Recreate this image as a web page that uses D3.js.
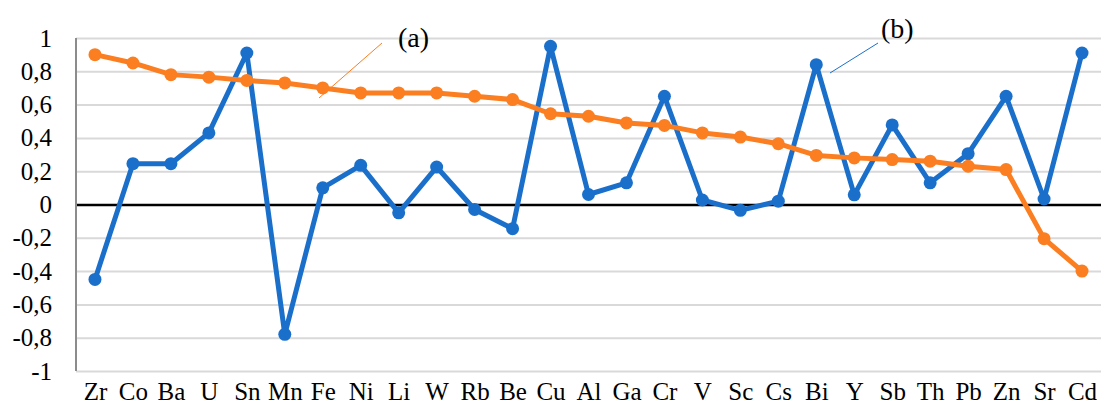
<!DOCTYPE html>
<html>
<head>
<meta charset="utf-8">
<script src="https://cdn.jsdelivr.net/npm/d3@7"></script>
<style>
  body { margin: 0; background: #fff; }
  svg { display: block; }
  svg text { font-family: "Liberation Serif", "DejaVu Serif", serif !important; fill: #000; }
</style>
</head>
<body>
<svg id="chart"></svg>
<script>
//Chart data
let elements = ['Zr', 'Co', 'Ba', 'U', 'Sn', 'Mn', 'Fe', 'Ni', 'Li', 'W', 'Rb', 'Be', 'Cu', 'Al',
                'Ga', 'Cr', 'V', 'Sc', 'Cs', 'Bi', 'Y', 'Sb', 'Th', 'Pb', 'Zn', 'Sr', 'Cd'];
let seriesA = [0.90, 0.85, 0.78, 0.765, 0.745, 0.73, 0.70, 0.67, 0.67, 0.67, 0.65, 0.63, 0.545, 0.53,
               0.49, 0.475, 0.43, 0.405, 0.365, 0.295, 0.28, 0.27, 0.26, 0.23, 0.21, -0.205, -0.40];
let seriesB = [-0.45, 0.245, 0.245, 0.43, 0.91, -0.78, 0.10, 0.235, -0.05, 0.225, -0.03, -0.145, 0.95, 0.06,
               0.13, 0.65, 0.027, -0.035, 0.02, 0.84, 0.058, 0.478, 0.13, 0.305, 0.65, 0.033, 0.91];
let yTicks = [-1, -0.8, -0.6, -0.4, -0.2, 0, 0.2, 0.4, 0.6, 0.8, 1];

//Canvas
let width = 1102, height = 406;
let margin = { left: 76, right: 1, top: 38, bottom: 35 };
let svg = d3.select('#chart').attr('width', width).attr('height', height);

//Scales
let xScale = d3.scalePoint()
               .domain(elements)
               .range([margin.left, width - margin.right])
               .padding(0.5);
let yScale = d3.scaleLinear()
               .domain([-1, 1])
               .range([height - margin.bottom, margin.top]);

let fmt = (d) => d3.format('.1f')(d).replace('.', ',').replace(',0', '').replace('−', '-');

//Grid lines
let yAxis = d3.axisLeft(yScale)
              .tickValues(yTicks)
              .tickSize(-(width - margin.right - margin.left))
              .tickFormat(fmt);
let gy = svg.append('g')
   .attr('transform', 'translate(' + margin.left + ',0)')
   .call(yAxis)
   .attr('font-family', null)
   .attr('font-size', 25);
gy.select('.domain').remove();
gy.selectAll('.tick line')
  .attr('stroke', (d) => d === 0 ? '#000' : '#d9d9d9')
  .attr('stroke-width', (d) => d === 0 ? 2.5 : 2);
gy.selectAll('.tick text')
  .attr('x', -24)
  .attr('dy', '0.32em');
gy.selectAll('.tick').filter((d) => d === 0).raise();

//Vertical axis line
svg.append('line')
   .attr('x1', margin.left).attr('x2', margin.left)
   .attr('y1', yScale(1)).attr('y2', yScale(-1))
   .attr('stroke', '#8c8c8c')
   .attr('stroke-width', 2);

//X axis labels
let xAxis = d3.axisBottom(xScale).tickSize(0).tickPadding(11);
let gx = svg.append('g')
   .attr('transform', 'translate(0,' + yScale(-1) + ')')
   .call(xAxis)
   .attr('font-family', null)
   .attr('font-size', 25);
gx.select('.domain').remove();

//Draw series
function drawSeries(values, color){
    let line = d3.line()
                 .x((d, i) => xScale(elements[i]))
                 .y((d) => yScale(d));
    svg.append('path')
       .datum(values)
       .attr('d', line)
       .attr('fill', 'none')
       .attr('stroke', color)
       .attr('stroke-width', 5)
       .attr('stroke-linejoin', 'round');
    svg.append('g')
       .selectAll('circle')
       .data(values)
       .enter()
       .append('circle')
       .attr('cx', (d, i) => xScale(elements[i]))
       .attr('cy', (d) => yScale(d))
       .attr('r', 6.5)
       .attr('fill', color);
}

drawSeries(seriesB, '#1a6fcb');
drawSeries(seriesA, '#fb7e21');

//Labels (a) and (b)
svg.append('line')
   .attr('x1', 319).attr('y1', 98).attr('x2', 382).attr('y2', 43)
   .attr('stroke', '#fb7e21').attr('stroke-width', 1);
svg.append('text')
   .attr('x', 398).attr('y', 47)
   .style('font-size', '28px')
   .text('(a)');

svg.append('line')
   .attr('x1', 830).attr('y1', 73).attr('x2', 878).attr('y2', 43)
   .attr('stroke', '#1a6fcb').attr('stroke-width', 1);
svg.append('text')
   .attr('x', 881).attr('y', 38)
   .style('font-size', '28px')
   .text('(b)');
</script>
</body>
</html>
